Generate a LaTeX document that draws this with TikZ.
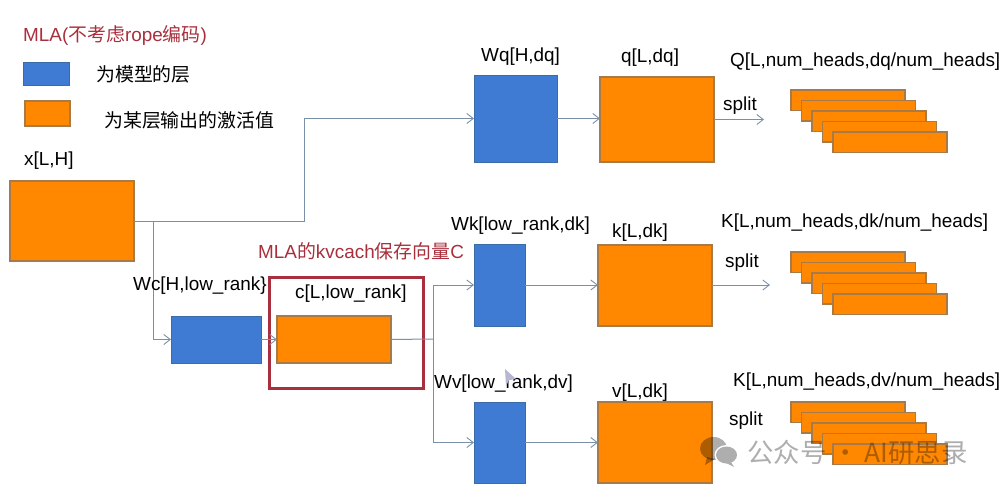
\documentclass[tikz,border=0pt]{standalone}
\usepackage{fontspec}
\setmainfont{Liberation Sans}
\newfontfamily\cjk{Noto Sans CJK SC}
\usetikzlibrary{arrows.meta}
\definecolor{lblue}{HTML}{3F7BD2}
\definecolor{bblue}{HTML}{3A6CA8}
\definecolor{lorange}{HTML}{FF8800}
\definecolor{borange}{HTML}{A87A48}
\definecolor{lred}{HTML}{A92F3C}
\definecolor{boxred}{HTML}{A8303E}
\definecolor{wire}{HTML}{7A90A8}
\definecolor{wmgray}{HTML}{AEAEAE}
\tikzset{
  lay/.style={draw=bblue,fill=lblue,line width=0.9pt,anchor=north west,inner sep=0pt,outer sep=0pt},
  act/.style={draw=borange,fill=lorange,line width=1.1pt,anchor=north west,inner sep=0pt,outer sep=0pt},
  txt/.style={anchor=west,inner sep=0pt,yshift=-1.8pt,font=\fontsize{18.9}{20}\selectfont,text=black},
  ctxt/.style={txt,font=\fontsize{18.9}{20}\selectfont\cjk},
  redtxt/.style={txt,text=lred},
  wirel/.style={draw=wire,line width=1pt},
  arr/.style={wirel,-{Straight Barb[length=6.5pt,width=10pt,line width=0.9pt]}},
  wm/.style={anchor=west,inner sep=0pt,text=wmgray,font=\fontsize{26.4}{29}\selectfont\cjk},
}
\newcommand{\rk}[3]{\node[act,minimum width=114pt,minimum height=20.5pt] (#1) at (#2,#3) {};}
\begin{document}
\begin{tikzpicture}[x=1pt,y=-1pt]
\useasboundingbox (0,0) rectangle (1000,492);
\fill[white] (0,0) rectangle (1000,492);

% legend
\node[redtxt] (title) at (23,34) {MLA({\cjk 不考虑}rope{\cjk 编码})};
\node[lay,minimum width=46pt,minimum height=23pt] (legb) at (23.5,62.5) {};
\node[act,minimum width=45pt,minimum height=25pt] (lego) at (25,101) {};
\node[ctxt] (legbt) at (96,73) {为模型的层};
\node[ctxt] (legot) at (104,119) {为某层输出的激活值};

% main blocks
\node[txt] (xt) at (24,159) {x[L,H]};
\node[act,minimum width=124pt,minimum height=80pt] (x) at (10,181) {};
\node[lay,minimum width=83pt,minimum height=87pt] (wq) at (474,75) {};
\node[act,minimum width=114pt,minimum height=85pt] (q) at (600,77) {};
\node[lay,minimum width=51pt,minimum height=82pt] (wk) at (474,244) {};
\node[act,minimum width=114pt,minimum height=81pt] (k) at (598,245) {};
\node[lay,minimum width=51pt,minimum height=81pt] (wv) at (474,402) {};
\node[act,minimum width=114pt,minimum height=81pt] (v) at (598,402) {};
\node[lay,minimum width=90pt,minimum height=47pt] (wc) at (171,316) {};
\node[act,minimum width=114pt,minimum height=47pt] (c) at (277,316) {};
\node[draw=boxred,line width=2.6pt,anchor=north west,minimum width=154pt,minimum height=111pt,inner sep=0pt] (cbox) at (268,276) {};

% stacks
\rk{q1}{791}{90}\rk{q2}{801.5}{100.5}\rk{q3}{812}{111}\rk{q4}{822.5}{121.5}\rk{q5}{833}{132}
\rk{k1}{791}{252}\rk{k2}{801.5}{262.5}\rk{k3}{812}{273}\rk{k4}{822.5}{283.5}\rk{k5}{833}{294}
\rk{v1}{791}{402}\rk{v2}{801.5}{412.5}\rk{v3}{812}{423}\rk{v4}{822.5}{433.5}\rk{v5}{833}{444}

% connector helpers
\coordinate (xout) at (x.east);
\coordinate (up) at (304,221);
\coordinate (drop) at (153,221);
\coordinate (junc) at (433,339);
\coordinate (qs) at (764,119.5);
\coordinate (ks) at (770,285);

% connectors
\draw[wirel] (xout) -- (drop);
\draw[arr] (drop) -- (drop |- wc.west) -- (wc.west);
\draw[arr] (drop) -- (up) -- (up |- wq.west) -- (wq.west);
\draw[arr] (wc.east) -- (c.west);
\draw[wirel] (c.east) -- (junc);
\draw[arr] (junc) -- (junc |- wk.west) -- (wk.west);
\draw[arr] (junc) -- (junc |- wv.west) -- (wv.west);
\draw[arr] (wq.east) -- (wq.east -| q.west);
\draw[arr] (wk.east) -- (wk.east -| k.west);
\draw[arr] (wv.east) -- (v.west);
\draw[arr] (q.east |- qs) -- (qs);
\draw[arr] (k.east |- ks) -- (ks);

% labels
\node[txt] (wqt) at (481,55) {Wq[H,dq]};
\node[txt] (qt) at (621,56) {q[L,dq]};
\node[txt] (qqt) at (730,60) {Q[L,num\_heads,dq/num\_heads]};
\node[txt] (qsp) at (723,104) {split};
\node[txt] (wkt) at (451,224) {Wk[low\_rank,dk]};
\node[txt] (kt) at (612,231) {k[L,dk]};
\node[txt] (kkt) at (721,221) {K[L,num\_heads,dk/num\_heads]};
\node[txt] (ksp) at (725,261) {split};
\node[redtxt] (cachet) at (258,249) {MLA{\cjk 的}kvcach{\cjk 保存向量}C};
\node[txt] (wct) at (133,284) {Wc[H,low\_rank\}};
\node[txt] (ct) at (295,292) {c[L,low\_rank]};
\node[txt] (wvt) at (434,382) {Wv[low\_rank,dv]};
\node[txt] (vt) at (612,391) {v[L,dk]};
\node[txt] (vvt) at (733,380) {K[L,num\_heads,dv/num\_heads]};
\node[txt] (vsp) at (729,419) {split};

% cursor
\fill[blue!25!gray!45] (505,369) -- (516,379) -- (509,380) -- (506,386) -- cycle;

% watermark
\begin{scope}[blend mode=multiply]
  \fill[wmgray] (713.5,448.5) ellipse (13.5pt and 11.5pt);
  \fill[wmgray] (707,457) -- (705,465) -- (715,459) -- cycle;
  \node[wm] (wmt) at (747,452) {公众号 · AI研思录};
\end{scope}
\fill[white] (726.5,455) ellipse (12pt and 10pt);
\fill[wmgray] (726.5,455) ellipse (10.5pt and 8.5pt);
\fill[wmgray] (731,462) -- (734,467) -- (726,463) -- cycle;
\end{tikzpicture}
\end{document}
